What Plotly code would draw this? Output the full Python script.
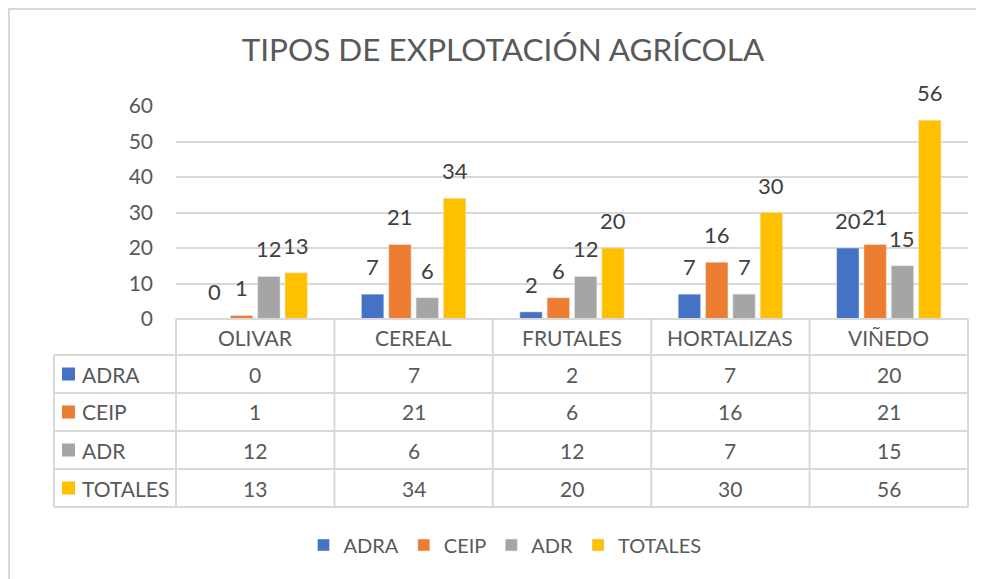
import plotly.graph_objects as go

# datos
categorias = ["OLIVAR", "CEREAL", "FRUTALES", "HORTALIZAS", "VIÑEDO"]
series = ["ADRA", "CEIP", "ADR", "TOTALES"]
adra = [0, 7, 2, 7, 20]
ceip = [1, 21, 6, 16, 21]
adr = [12, 6, 12, 7, 15]
totales = [13, 34, 20, 30, 56]
valores = [adra, ceip, adr, totales]
colores = ["#4472C4", "#ED7D31", "#A5A5A5", "#FFC000"]
titulo = "TIPOS DE EXPLOTACIÓN AGRÍCOLA"

FUENTE = "Lato"
GRIS = "#595959"
LINEA = "#D9D9D9"

# geometria en pixeles de la ventana (la pagina deja 8px de margen)
OFF = 8
WIN_W, WIN_H = 984, 579
W, H = WIN_W - OFF, WIN_H - OFF
PL, PR, PT, PB = 176, 968, 106, 319
COL0 = 54          # borde izquierdo de la columna de leyenda de la tabla
CAB_H = 36         # alto de la fila de categorias
FILA_H = 38        # alto de cada fila de datos
BARGAP = 0.31
BARGROUPGAP = 0.18


def px_x(p):
    return (p - PL) / (PR - PL)


def px_y(p):
    return (PB - p) / (PB - PT)


fig = go.Figure()
for nombre, vals, col in zip(series, valores, colores):
    fig.add_trace(go.Bar(x=categorias, y=vals, name=nombre, marker_color=col))

shapes = []
annotations = []
ncat = len(categorias)
nser = len(series)
colw = (PR - PL) / ncat

# etiquetas de datos sobre las barras
slot = (1 - BARGAP) / nser
for k, vals in enumerate(valores):
    desplaz = (k - (nser - 1) / 2) * slot
    for i, v in enumerate(vals):
        annotations.append(dict(x=i + desplaz, xref="x", y=v, yref="y",
                                text=str(v), showarrow=False, xanchor="center",
                                yanchor="bottom", yshift=12,
                                font=dict(family=FUENTE, size=22, color="#404040")))

y_filas = [PB + CAB_H + k * FILA_H for k in range(nser + 1)]
y_fin = y_filas[-1]

# lineas horizontales de la tabla
shapes.append(dict(type="line", xref="paper", yref="paper",
                   x0=0, x1=1, y0=px_y(PB), y1=px_y(PB),
                   line=dict(color=LINEA, width=2)))
for yy in y_filas:
    shapes.append(dict(type="line", xref="paper", yref="paper",
                       x0=px_x(COL0), x1=1, y0=px_y(yy), y1=px_y(yy),
                       line=dict(color=LINEA, width=2)))
# lineas verticales
for i in range(ncat + 1):
    xx = PL + i * colw
    shapes.append(dict(type="line", xref="paper", yref="paper",
                       x0=px_x(xx), x1=px_x(xx), y0=px_y(PB), y1=px_y(y_fin),
                       line=dict(color=LINEA, width=2)))
shapes.append(dict(type="line", xref="paper", yref="paper",
                   x0=px_x(COL0), x1=px_x(COL0), y0=px_y(y_filas[0]), y1=px_y(y_fin),
                   line=dict(color=LINEA, width=2)))

# cabecera de categorias
for c in categorias:
    annotations.append(dict(x=c, xref="x", y=px_y(PB + CAB_H / 2), yref="paper",
                            text=c, showarrow=False, xanchor="center", yanchor="middle",
                            font=dict(family=FUENTE, size=21, color=GRIS)))

# filas de datos
for k, (nombre, vals, col) in enumerate(zip(series, valores, colores)):
    yc = y_filas[k] + FILA_H / 2
    shapes.append(dict(type="rect", xref="paper", yref="paper",
                       x0=px_x(COL0 + 8), x1=px_x(COL0 + 21),
                       y0=px_y(yc - 6.5), y1=px_y(yc + 6.5),
                       fillcolor=col, line=dict(width=0)))
    annotations.append(dict(x=px_x(COL0 + 26), xref="paper", y=px_y(yc), yref="paper",
                            text=nombre, showarrow=False, xanchor="left", yanchor="middle",
                            font=dict(family=FUENTE, size=21, color=GRIS)))
    for c, v in zip(categorias, vals):
        annotations.append(dict(x=c, xref="x", y=px_y(yc), yref="paper",
                                text=str(v), showarrow=False, xanchor="center", yanchor="middle",
                                font=dict(family=FUENTE, size=21, color=GRIS)))

# borde del area del grafico
shapes.append(dict(type="rect", xref="paper", yref="paper",
                   x0=px_x(OFF + 1), x1=px_x(WIN_W + 20), y0=px_y(OFF + 1), y1=px_y(WIN_H + 20),
                   line=dict(color="#D9D9D9", width=2), fillcolor="rgba(0,0,0,0)"))

fig.update_layout(
    width=W, height=H,
    margin=dict(l=PL - OFF, r=WIN_W - PR, t=PT - OFF, b=WIN_H - PB),
    paper_bgcolor="white", plot_bgcolor="white",
    barmode="group", bargap=BARGAP, bargroupgap=BARGROUPGAP,
    title=dict(text=titulo, x=(503 - OFF) / W, y=1 - (50 - OFF) / H,
               xanchor="center", yanchor="middle",
               font=dict(family=FUENTE, size=31.5, color=GRIS)),
    font=dict(family=FUENTE, color=GRIS),
    xaxis=dict(showticklabels=False, showline=False, showgrid=False, zeroline=False,
               range=[-0.5, ncat - 0.5]),
    yaxis=dict(range=[0, 60], dtick=10, showgrid=True, gridcolor=LINEA, gridwidth=2,
               zeroline=False, showline=False, ticks="", ticklabelstandoff=22,
               tickfont=dict(family=FUENTE, size=21, color=GRIS)),
    legend=dict(orientation="h", xref="container", yref="container",
                x=(505 - OFF) / W, y=1 - (545 - OFF) / H, xanchor="center", yanchor="middle",
                font=dict(family=FUENTE, size=20, color=GRIS), itemwidth=30,
                traceorder="normal"),
    shapes=shapes, annotations=annotations,
)

fig.write_html("out.html")
